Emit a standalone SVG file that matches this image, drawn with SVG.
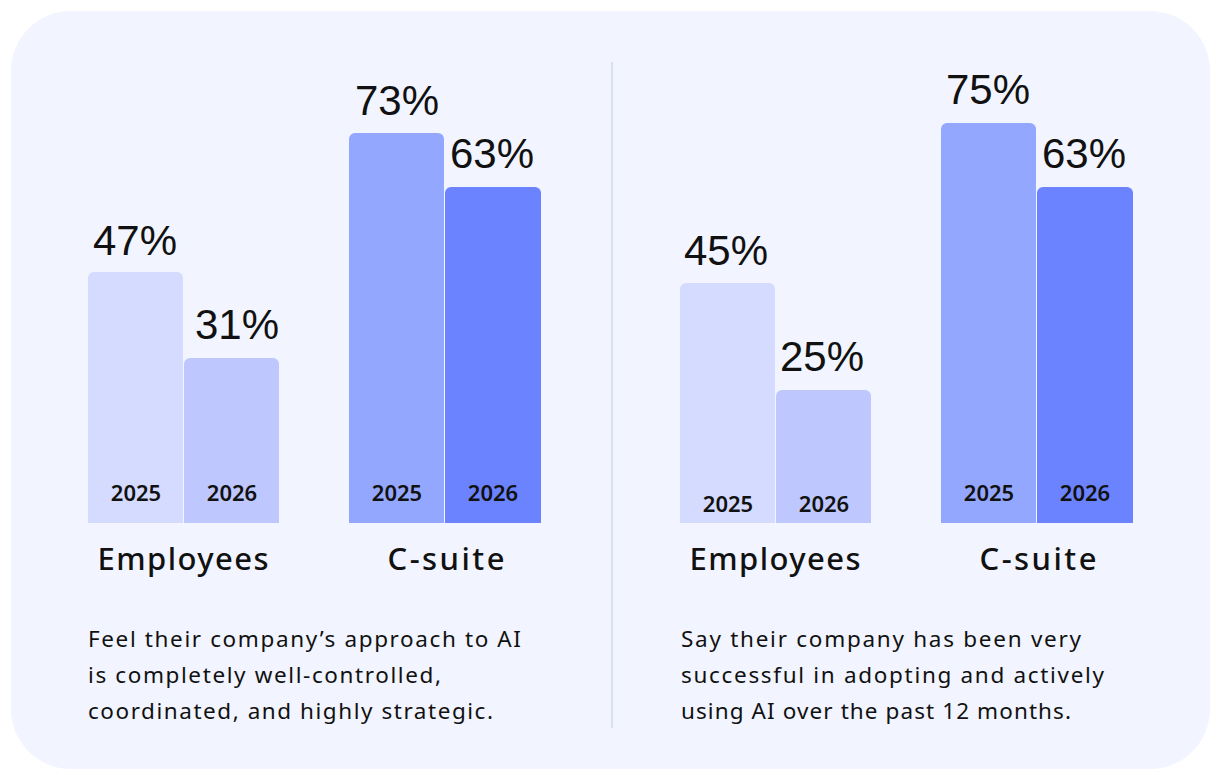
<svg xmlns="http://www.w3.org/2000/svg" width="1210" height="769" viewBox="0 0 1210 769">
<style>
.pct{font-family:"Liberation Sans",Arial,sans-serif;font-size:42px;fill:#111}
.yr{font-family:"Noto Sans",sans-serif;font-size:22px;font-weight:600;fill:#111;text-anchor:middle}
.cat{font-family:"Noto Sans",sans-serif;font-size:31px;font-weight:500;fill:#111;text-anchor:middle}
.desc{font-family:"Noto Sans",sans-serif;font-size:22.5px;fill:#111}
.b1{fill:#d4dbfe}.b2{fill:#bec8fe}.b3{fill:#94a7ff}.b4{fill:#6b83ff}
</style>
<rect x="11" y="11" width="1199" height="758" rx="60" fill="#f2f5ff"/>
<g id="connectors">
<line x1="612" y1="62" x2="612" y2="728" stroke="#d9e0ec" stroke-width="2"/>
</g>
<g id="left-employees">
<path class="b1" d="M88,523V278a6,6 0 0 1 6,-6H177a6,6 0 0 1 6,6V523Z"/>
<path class="b2" d="M184,523V364a6,6 0 0 1 6,-6H273a6,6 0 0 1 6,6V523Z"/>
<text class="pct" x="93" y="255">47%</text>
<text class="pct" x="195" y="339">31%</text>
<text class="yr" x="136" y="501">2025</text>
<text class="yr" x="232" y="501">2026</text>
<text class="cat" x="183" y="570" textLength="171" lengthAdjust="spacing">Employees</text>
</g>
<g id="left-csuite">
<path class="b3" d="M349,523V139a6,6 0 0 1 6,-6H438a6,6 0 0 1 6,6V523Z"/>
<path class="b4" d="M445,523V193a6,6 0 0 1 6,-6H535a6,6 0 0 1 6,6V523Z"/>
<text class="pct" x="355" y="115">73%</text>
<text class="pct" x="450" y="168">63%</text>
<text class="yr" x="397" y="501">2025</text>
<text class="yr" x="493" y="501">2026</text>
<text class="cat" x="446" y="570" textLength="117" lengthAdjust="spacing">C-suite</text>
</g>
<g id="left-desc">
<text class="desc" x="88" y="647" textLength="433" lengthAdjust="spacing">Feel their company’s approach to AI</text>
<text class="desc" x="88" y="683" textLength="353" lengthAdjust="spacing">is completely well-controlled,</text>
<text class="desc" x="88" y="719" textLength="405" lengthAdjust="spacing">coordinated, and highly strategic.</text>
</g>
<g id="right-employees">
<path class="b1" d="M680,523V289a6,6 0 0 1 6,-6H769a6,6 0 0 1 6,6V523Z"/>
<path class="b2" d="M776,523V396a6,6 0 0 1 6,-6H865a6,6 0 0 1 6,6V523Z"/>
<text class="pct" x="684" y="265">45%</text>
<text class="pct" x="780" y="371">25%</text>
<text class="yr" x="728" y="512">2025</text>
<text class="yr" x="824" y="512">2026</text>
<text class="cat" x="775" y="570" textLength="171" lengthAdjust="spacing">Employees</text>
</g>
<g id="right-csuite">
<path class="b3" d="M941,523V129a6,6 0 0 1 6,-6H1030a6,6 0 0 1 6,6V523Z"/>
<path class="b4" d="M1037,523V193a6,6 0 0 1 6,-6H1127a6,6 0 0 1 6,6V523Z"/>
<text class="pct" x="946" y="104">75%</text>
<text class="pct" x="1042" y="168">63%</text>
<text class="yr" x="989" y="501">2025</text>
<text class="yr" x="1085" y="501">2026</text>
<text class="cat" x="1038" y="570" textLength="117" lengthAdjust="spacing">C-suite</text>
</g>
<g id="right-desc">
<text class="desc" x="681" y="647" textLength="400" lengthAdjust="spacing">Say their company has been very</text>
<text class="desc" x="681" y="683" textLength="423" lengthAdjust="spacing">successful in adopting and actively</text>
<text class="desc" x="681" y="719" textLength="390" lengthAdjust="spacing">using AI over the past 12 months.</text>
</g>
</svg>
